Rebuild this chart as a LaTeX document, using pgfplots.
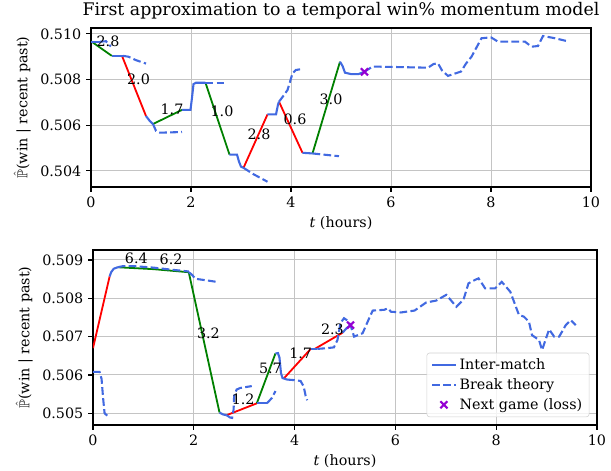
\documentclass[border=0pt]{standalone}
\usepackage{amssymb}
\usepackage{fontspec}
\setmainfont{DejaVu Serif}
\usepackage{pgfplots}
\pgfplotsset{compat=1.18}

\definecolor{royal}{HTML}{4169E1}
\definecolor{mgreen}{HTML}{008000}
\definecolor{mred}{HTML}{FF0000}
\definecolor{dviolet}{HTML}{9400D3}
\definecolor{gridgray}{HTML}{C4C4C4}

\tikzset{lbl/.style={font=\fontsize{10.3}{12}\selectfont}}
\pgfplotsset{
  chart/.style={
    scale only axis, anchor=south west,
    xmin=0, xmax=10, xtick={0,2,...,10},
    grid=major, major grid style={gridgray, line width=0.7pt},
    axis line style={line width=0.8pt},
    tick align=outside, xtick pos=lower, ytick pos=left,
    major tick length=3.5pt, tick style={black, line width=0.8pt},
    tick label style={font=\fontsize{10.3}{12}\selectfont},
    label style={font=\fontsize{10.3}{12}\selectfont},
    /pgf/number format/assume math mode=true,
    scaled y ticks=false,
    y tick label style={/pgf/number format/.cd, fixed, fixed zerofill, precision=3},
    xlabel={\textit{t} (hours)},
    ylabel={$\hat{\mathbb{P}}$(win | recent past)},
  },
  imatch/.style={royal, line width=1.5pt, forget plot},
  btheory/.style={royal, line width=1.5pt, dash pattern=on 5.55pt off 2.4pt, forget plot},
  gm/.style={mgreen, line width=1.3pt, forget plot},
  rm/.style={mred, line width=1.3pt, forget plot},
  nextgame/.style={only marks, mark=x, mark size=3.6pt, dviolet, line width=1.5pt, forget plot},
}

\begin{document}
\begin{tikzpicture}
\path[use as bounding box] (0,0) rectangle (439.92pt,339.12pt);

% ---- top panel ----
\begin{axis}[chart,
  at={(65.52pt,204.48pt)}, width=360pt, height=114.48pt,
  ymin=0.50329, ymax=0.51026,
  ytick={0.504,0.506,0.508,0.510},
  title={First approximation to a temporal win\% momentum model},
  title style={font=\fontsize{12.5}{14}\selectfont, yshift=-3pt},
]
% matches
\addplot[gm] coordinates {(0,0.50968)(0.415,0.50904)};
\addplot[rm] coordinates {(0.62,0.50904)(1.10,0.50640)};
\addplot[gm] coordinates {(1.24,0.50605)(1.82,0.50667)};
\addplot[gm] coordinates {(2.29,0.50786)(2.77,0.50471)};
\addplot[rm] coordinates {(3.05,0.50413)(3.53,0.50647)};
\addplot[rm] coordinates {(3.76,0.50703)(4.23,0.50479)};
\addplot[gm] coordinates {(4.43,0.50476)(4.98,0.50878)};
% break theory
\addplot[btheory] coordinates {(0.18,0.50966)(0.30,0.50968)(0.35,0.50955)(0.40,0.50945)};
\addplot[btheory] coordinates {(0.64,0.50904)(0.75,0.50900)(0.90,0.50885)(1.10,0.50870)};
\addplot[btheory] coordinates {(1.24,0.50605)(1.30,0.50575)(1.38,0.50567)(1.82,0.50570)};
\addplot[btheory] coordinates {(2.29,0.50786)(2.72,0.50786)};
\addplot[btheory] coordinates {(3.05,0.50413)(3.25,0.50385)(3.53,0.50352)};
\addplot[btheory] coordinates {(3.76,0.50703)(3.86,0.50732)(3.93,0.50754)(3.98,0.50790)(4.03,0.50827)(4.10,0.50842)(4.19,0.50845)};
\addplot[btheory] coordinates {(4.43,0.50476)(4.96,0.50464)};
\addplot[btheory] coordinates {(5.47,0.50834)(5.63,0.50857)(6.74,0.50852)(6.85,0.50868)(6.94,0.50871)
  (7.02,0.50840)(7.14,0.50816)(7.40,0.50835)(7.50,0.50870)(7.61,0.50900)(7.81,0.50981)(8.00,0.50985)
  (8.14,0.50966)(8.68,0.50966)(8.81,0.50944)(8.94,0.50947)(9.04,0.50991)(9.28,0.50981)(9.51,0.50969)};
% inter-match
\addplot[imatch] coordinates {(0,0.50966)(0.18,0.50966)};
\addplot[imatch] coordinates {(0.415,0.50904)(0.64,0.50904)};
\addplot[imatch] coordinates {(1.10,0.50640)(1.17,0.50620)(1.24,0.50605)};
\addplot[imatch] coordinates {(1.82,0.50667)(1.99,0.50667)(2.02,0.50720)(2.05,0.50780)(2.10,0.50786)(2.29,0.50786)};
\addplot[imatch] coordinates {(2.77,0.50471)(2.92,0.50471)(2.96,0.50440)(3.00,0.50418)(3.05,0.50413)};
\addplot[imatch] coordinates {(3.53,0.50647)(3.70,0.50647)(3.74,0.50690)(3.76,0.50703)};
\addplot[imatch] coordinates {(4.23,0.50479)(4.43,0.50476)};
\addplot[imatch] coordinates {(4.98,0.50878)(5.03,0.50860)(5.08,0.50830)(5.20,0.50824)(5.35,0.50824)(5.47,0.50834)};
\addplot[nextgame] coordinates {(5.47,0.50834)};
% match labels
\node[lbl] at (axis cs:0.34,0.50966) {2.8};
\node[lbl] at (axis cs:0.95,0.50800) {2.0};
\node[lbl] at (axis cs:1.62,0.50669) {1.7};
\node[lbl] at (axis cs:2.62,0.50663) {1.0};
\node[lbl] at (axis cs:3.36,0.50559) {2.8};
\node[lbl] at (axis cs:4.08,0.50625) {0.6};
\node[lbl] at (axis cs:4.80,0.50713) {3.0};
\end{axis}

% ---- bottom panel ----
\begin{axis}[chart,
  at={(66.96pt,33.12pt)}, width=362.88pt, height=126pt,
  ymin=0.504695, ymax=0.50926,
  ytick={0.505,0.506,0.507,0.508,0.509},
  legend cell align=left,
  legend style={at={(0.985,0.045)}, anchor=south east, draw=gray!35, rounded corners=2pt,
    fill=white, fill opacity=0.8, text opacity=1, font=\fontsize{10.3}{12}\selectfont,
    row sep=1pt},
]
\addlegendimage{royal, line width=1.5pt}
\addlegendentry{Inter-match}
\addlegendimage{royal, line width=1.5pt, dash pattern=on 5.55pt off 2.4pt}
\addlegendentry{Break theory}
\addlegendimage{only marks, mark=x, mark size=3.6pt, dviolet, line width=1.5pt}
\addlegendentry{Next game (loss)}
% matches
\addplot[rm] coordinates {(0,0.50670)(0.33,0.50857)};
\addplot[gm] coordinates {(0.49,0.50881)(1.20,0.50876)(1.90,0.50868)};
\addplot[gm] coordinates {(1.90,0.50868)(2.51,0.50502)};
\addplot[rm] coordinates {(2.65,0.50495)(3.25,0.50526)};
\addplot[gm] coordinates {(3.25,0.50526)(3.62,0.50656)};
\addplot[rm] coordinates {(3.78,0.50590)(4.32,0.50668)};
\addplot[rm] coordinates {(4.40,0.50668)(4.95,0.50710)};
% break theory
\addplot[btheory] coordinates {(0,0.50608)(0.13,0.50608)(0.17,0.50590)(0.20,0.50540)(0.23,0.50500)(0.29,0.50493)};
\addplot[btheory] coordinates {(0.49,0.50881)(0.60,0.50884)(0.80,0.50884)(1.20,0.50880)(1.60,0.50874)(1.90,0.50870)};
\addplot[btheory] coordinates {(1.90,0.50868)(1.96,0.50862)(2.03,0.50851)(2.45,0.50843)};
\addplot[btheory] coordinates {(2.65,0.50495)(2.72,0.50489)(2.76,0.50488)(2.79,0.50510)(2.80,0.50545)(2.85,0.50562)(2.92,0.50566)(3.15,0.50571)};
\addplot[btheory] coordinates {(3.45,0.50526)(3.55,0.50540)(3.62,0.50558)};
\addplot[btheory] coordinates {(3.85,0.50588)(4.05,0.50586)(4.12,0.50584)(4.18,0.50570)(4.22,0.50545)(4.25,0.50534)};
\addplot[btheory] coordinates {(4.45,0.50668)(4.65,0.50670)(4.78,0.50672)(4.85,0.50691)(4.91,0.50735)(4.98,0.50748)
  (5.05,0.50742)(5.11,0.50730)(5.18,0.50700)(5.35,0.50709)(5.48,0.50748)(5.55,0.50768)(5.78,0.50770)
  (5.85,0.50774)(5.91,0.50765)(6.11,0.50763)(6.38,0.50768)(6.61,0.50789)(6.81,0.50794)(7.01,0.50809)
  (7.21,0.50778)(7.35,0.50796)(7.45,0.50839)(7.58,0.50848)(7.65,0.50852)(7.78,0.50826)(7.98,0.50826)
  (8.11,0.50843)(8.28,0.50817)(8.45,0.50757)(8.55,0.50752)(8.65,0.50739)(8.71,0.50704)(8.85,0.50691)
  (8.91,0.50665)(9.05,0.50719)(9.15,0.50700)(9.25,0.50700)(9.38,0.50730)(9.48,0.50743)(9.58,0.50730)};
% inter-match
\addplot[imatch] coordinates {(0.33,0.50857)(0.36,0.50868)(0.41,0.50877)(0.49,0.50881)};
\addplot[imatch] coordinates {(2.51,0.50502)(2.58,0.50497)(2.65,0.50495)};
\addplot[imatch] coordinates {(3.25,0.50526)(3.45,0.50526)};
\addplot[imatch] coordinates {(3.62,0.50656)(3.67,0.50657)(3.70,0.50645)(3.73,0.50605)(3.76,0.50592)(3.85,0.50588)};
\addplot[imatch] coordinates {(4.32,0.50668)(4.45,0.50668)};
\addplot[imatch] coordinates {(4.95,0.50710)(5.03,0.50722)(5.11,0.50730)};
\addplot[nextgame] coordinates {(5.11,0.50730)};
% match labels
\node[lbl] at (axis cs:0.86,0.50905) {6.4};
\node[lbl] at (axis cs:1.55,0.50901) {6.2};
\node[lbl] at (axis cs:2.29,0.50709) {3.2};
\node[lbl] at (axis cs:2.98,0.50537) {1.2};
\node[lbl] at (axis cs:3.52,0.50617) {5.7};
\node[lbl] at (axis cs:4.12,0.50656) {1.7};
\node[lbl] at (axis cs:4.75,0.50719) {2.3};
\end{axis}
\end{tikzpicture}
\end{document}
